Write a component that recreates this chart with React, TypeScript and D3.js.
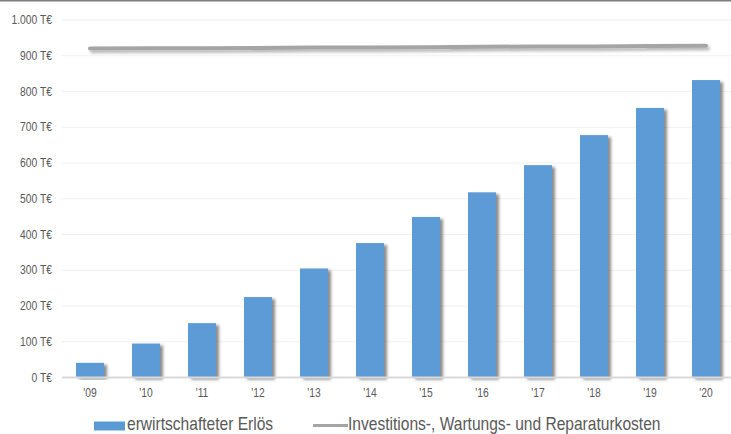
import React from "react";
import * as d3 from "d3";

const years = ["'09", "'10", "'11", "'12", "'13", "'14", "'15", "'16", "'17", "'18", "'19", "'20"];
const revenue = [41, 95, 152, 225, 305, 376, 449, 518, 594, 678, 754, 832];
const costs = [920, 921, 921, 922, 923, 923, 924, 925, 926, 926, 927, 928];
const yTicks = [0, 100, 200, 300, 400, 500, 600, 700, 800, 900, 1000];
const legendLabels = ["erwirtschafteter Erlös", "Investitions-, Wartungs- und Reparaturkosten"];

const W = 731;
const H = 434;
const FONT = "'Liberation Sans', Arial, sans-serif";

// Condensed text: horizontally squeezed label anchored at (x, y)
function NarrowText(props: {
  x: number;
  y: number;
  size: number;
  sx: number;
  anchor?: "start" | "middle" | "end";
  children: React.ReactNode;
}) {
  const { x, y, size, sx, anchor = "start", children } = props;
  return (
    <text
      transform={`translate(${x},${y}) scale(${sx},1)`}
      dy="0.35em"
      textAnchor={anchor}
      fontFamily={FONT}
      fontSize={size}
      fill="#595959"
    >
      {children}
    </text>
  );
}

export default function App() {
  const left = 62;
  const right = 734;
  const top = 20;
  const bottom = 377.5;

  const x = d3.scaleBand<string>().domain(years).range([left, right]).paddingInner(0.5).paddingOuter(0.25);
  const y = d3.scaleLinear().domain([0, 1000]).range([bottom, top]);

  const line = d3
    .line<number>()
    .x((_, i) => (x(years[i]) as number) + x.bandwidth() / 2)
    .y((d) => y(d));

  const fmt = (v: number) => d3.format(",")(v).replace(/,/g, ".") + " T€";

  return (
    <svg width={W} height={H} style={{ position: "absolute", left: 0, top: 0, background: "#fff" }}>
      <defs>
        <filter id="barShadow" x="-20%" y="-5%" width="160%" height="120%">
          <feDropShadow dx="3" dy="2" stdDeviation="1.6" floodColor="#000" floodOpacity="0.45" />
        </filter>
        <filter id="lineShadow" x="-5%" y="-200%" width="110%" height="500%">
          <feDropShadow dx="2" dy="2.5" stdDeviation="1.5" floodColor="#000" floodOpacity="0.3" />
        </filter>
      </defs>

      <line x1={0} x2={W} y1={0.75} y2={0.75} stroke="#7f7f7f" strokeWidth={1.5} />

      {yTicks.map((t) => (
        <g key={t}>
          {t > 0 && (
            <line x1={left} x2={W} y1={y(t)} y2={y(t)} stroke="#f0f0f0" strokeWidth={1} />
          )}
          <NarrowText x={52} y={y(t)} size={12} sx={0.86} anchor="end">
            {fmt(t)}
          </NarrowText>
        </g>
      ))}

      {revenue.map((v, i) => (
        <rect
          key={years[i]}
          x={x(years[i])}
          y={y(v)}
          width={x.bandwidth()}
          height={bottom - y(v)}
          fill="#5b9bd5"
          filter="url(#barShadow)"
        />
      ))}

      <line x1={left} x2={W} y1={bottom} y2={bottom} stroke="#d9d9d9" strokeWidth={2} />

      {years.map((yr) => (
        <NarrowText
          key={yr}
          x={(x(yr) as number) + x.bandwidth() / 2}
          y={393}
          size={12}
          sx={0.86}
          anchor="middle"
        >
          {yr}
        </NarrowText>
      ))}

      <path
        d={line(costs) || ""}
        fill="none"
        stroke="#a5a5a5"
        strokeWidth={4}
        strokeLinecap="round"
        filter="url(#lineShadow)"
      />

      <rect x={94} y={421.5} width={31} height={9} fill="#5b9bd5" />
      <NarrowText x={127} y={423.5} size={17.5} sx={0.89}>
        {legendLabels[0]}
      </NarrowText>
      <line x1={313} x2={348} y1={425.5} y2={425.5} stroke="#a5a5a5" strokeWidth={3} />
      <NarrowText x={348} y={423.5} size={17.5} sx={0.89}>
        {legendLabels[1]}
      </NarrowText>
    </svg>
  );
}
